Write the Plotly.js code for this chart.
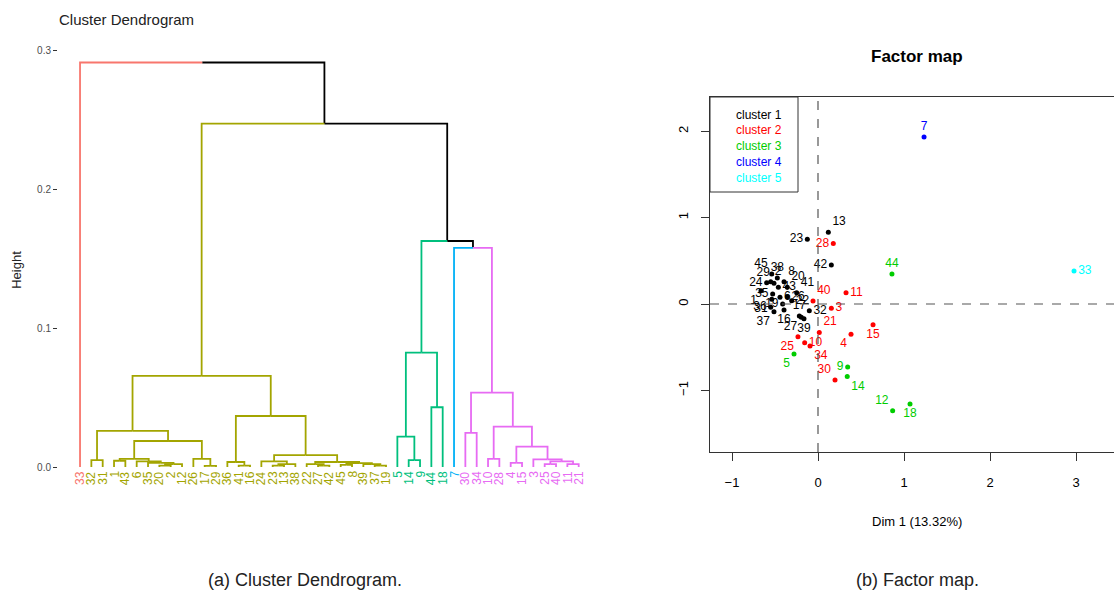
<!DOCTYPE html>
<html><head><meta charset="utf-8">
<script src="https://cdn.plot.ly/plotly-3.0.1.min.js"></script>
<style>html,body{margin:0;padding:0;background:#fff;overflow:hidden}</style>
</head><body><div id="chart" style="width:1114px;height:595px"></div>
<script>
// ---------- Dendrogram data ----------
const leafLabels = ["33",
  "32","31","1","43","6","35","20","2","12","26","17","29","36","41","16","24","23","13","38","22","27","42","45","8","39","37","19",
  "5","14","9","44","18",
  "7",
  "30","34","10","28","4","15","3","25","40","11","21"];
const leafCluster = [1,
  2,2,2,2,2,2,2,2,2,2,2,2,2,2,2,2,2,2,2,2,2,2,2,2,2,2,2,
  3,3,3,3,3,
  4,
  5,5,5,5,5,5,5,5,5,5,5];
// merges: negative = leaf position, positive = earlier merge row
const mergeLeft  = [-2,-8, 2,-7,-6,-4, 6,-12,-11, 7, 1,-15,-14,-18,14,-17,-22,-21,-24,-27,-26,19,18,16,13,11,
                    -30,-29,-32,28,
                    -35,-37,-39,-42,-44,34,-41,33,32,31,
                    -34,30,26,-1];
const mergeRight = [-3,-9,-10, 3, 4,-5, 5,-13, 8, 9,10,-16, 12,-19,-20,15,-23, 17,-25,-28, 20,21,22,23,24,25,
                    -31,27,-33,29,
                    -36,-38,-40,-43,-45,35,36,37,38,39,
                    40,41,42,43];
const mergeHeight = [0.0050,0.0010,0.0020,0.0030,0.0040,0.0045,0.0058,0.0008,0.0058,0.0187,0.0260,0.0010,0.0036,0.0010,0.0020,0.0040,0.0010,0.0020,0.0015,0.0010,0.0020,0.0028,0.0036,0.0086,0.0367,0.0655,
                    0.0050,0.0218,0.0430,0.0823,
                    0.0245,0.0058,0.0030,0.0020,0.0020,0.0040,0.0055,0.0146,0.0290,0.0535,
                    0.1576,0.1626,0.2470,0.2910];
const heightTicks = [0, 0.1, 0.2, 0.3];
const heightTickText = ["0.0", "0.1", "0.2", "0.3"];

// ---------- Factor map data ----------
const c1Labels = ["13","23","42","45","38","8","2","29","24","20","43","41","1","35","6","26","22","31","19","36","16","37","17","27","39","32"];
const c1X = [0.12,-0.124,0.155,-0.538,-0.473,-0.395,-0.55,-0.512,-0.597,-0.357,-0.461,-0.248,-0.663,-0.527,-0.442,-0.357,-0.306,-0.538,-0.411,-0.55,-0.395,-0.512,-0.217,-0.194,-0.163,-0.101];
const c1Y = [0.83,0.749,0.451,0.347,0.301,0.258,0.258,0.239,0.247,0.193,0.193,0.131,0.154,0.116,0.077,0.085,0.039,0.054,0.0,-0.039,-0.069,-0.089,-0.139,-0.154,-0.17,-0.077];
const c2Labels = ["28","40","11","3","21","15","4","25","10","34","30"];
const c2X = [0.178,-0.058,0.326,0.155,0.015,0.64,0.384,-0.233,-0.155,-0.093,0.198];
const c2Y = [0.70,0.035,0.13,-0.05,-0.33,-0.24,-0.35,-0.378,-0.448,-0.486,-0.88];
const c3Labels = ["5","9","14","12","18","44"];
const c3X = [-0.279,0.345,0.34,0.868,1.07,0.86];
const c3Y = [-0.58,-0.73,-0.84,-1.235,-1.157,0.347];
const c4Labels = ["7"];
const c4X = [1.233];
const c4Y = [1.933];
const c5Labels = ["33"];
const c5X = [2.977];
const c5Y = [0.382];
const clusterNames = ["cluster 1","cluster 2","cluster 3","cluster 4","cluster 5"];

// label placement (style)
const c1Pos = ["top right","middle left","middle left","top left","top center","top right","top right","top left","middle left","top right","middle right","top right","bottom left","middle left","middle right","middle right","middle right","bottom left","middle left","middle left","bottom center","bottom left","top center","bottom left","bottom center","middle right"];
const c2Pos = ["middle left","top right","middle right","middle right","top right","bottom center","bottom left","bottom left","middle right","bottom right","top left"];
const c3Pos = ["bottom left","middle left","bottom right","top left","bottom center","top center"];
const c4Pos = ["top center"];
const c5Pos = ["middle right"];

// ---------- Build dendrogram ----------
const dendColors = ["#000000","#F8766D","#A3A500","#00BF7D","#00B0F6","#E76BF3"];
const segX = dendColors.map(() => []), segY = dendColors.map(() => []);
const nodeX = [], nodeC = [];
function info(c) {
  if (c < 0) return {x: -c, h: 0, c: leafCluster[-c - 1]};
  return {x: nodeX[c - 1], h: mergeHeight[c - 1], c: nodeC[c - 1]};
}
for (let i = 0; i < mergeHeight.length; i++) {
  const a = info(mergeLeft[i]), b = info(mergeRight[i]);
  nodeX[i] = (a.x + b.x) / 2;
  nodeC[i] = (a.c === b.c) ? a.c : 0;
  const H = mergeHeight[i];
  [a, b].forEach(ch => {
    segX[ch.c].push(nodeX[i], ch.x, ch.x, null);
    segY[ch.c].push(H, H, ch.h, null);
  });
}
const traces = [];
dendColors.forEach((col, k) => {
  if (segX[k].length) traces.push({type: "scatter", mode: "lines", x: segX[k], y: segY[k],
    xaxis: "x", yaxis: "y", line: {color: col, width: 1.8}, hoverinfo: "skip", showlegend: false});
});

// ---------- Factor map traces ----------
const fmColors = ["#000000","#FF0000","#00CD00","#0000FF","#00FFFF"];
const fmSets = [[c1Labels,c1X,c1Y,c1Pos],[c2Labels,c2X,c2Y,c2Pos],[c3Labels,c3X,c3Y,c3Pos],[c4Labels,c4X,c4Y,c4Pos],[c5Labels,c5X,c5Y,c5Pos]];
fmSets.forEach((s, k) => {
  traces.push({type: "scatter", mode: "markers+text", x: s[1], y: s[2], text: s[0], textposition: s[3],
    xaxis: "x2", yaxis: "y2", cliponaxis: false, name: clusterNames[k],
    marker: {color: fmColors[k], size: 5}, textfont: {color: fmColors[k], size: 12, family: "Liberation Sans, Arial, sans-serif"},
    hoverinfo: "skip", showlegend: false});
});

const W = 1114, Hh = 595;
const px = v => v / W, py = v => (Hh - v) / Hh;
const font = "Liberation Sans, Arial, sans-serif";
const annotations = [];
leafLabels.forEach((lab, i) => {
  annotations.push({x: i + 1, y: 0, xref: "x", yref: "y", text: lab, showarrow: false, textangle: -90,
    xanchor: "center", yanchor: "top", yshift: -2, font: {size: 12, color: dendColors[leafCluster[i]], family: font}});
});
annotations.push({x: px(57), y: py(19), xref: "paper", yref: "paper", text: "Cluster Dendrogram", showarrow: false,
  xanchor: "left", yanchor: "middle", font: {size: 15, color: "#222", family: font}});
annotations.push({x: px(917), y: py(57), xref: "paper", yref: "paper", text: "<b>Factor map</b>", showarrow: false,
  xanchor: "center", yanchor: "middle", font: {size: 17, color: "#000", family: font}});
annotations.push({x: px(917), y: py(521), xref: "paper", yref: "paper", text: "Dim 1 (13.32%)", showarrow: false,
  xanchor: "center", yanchor: "middle", font: {size: 13, color: "#000", family: font}});
annotations.push({x: px(305), y: py(580), xref: "paper", yref: "paper", text: "(a) Cluster Dendrogram.", showarrow: false,
  xanchor: "center", yanchor: "middle", font: {size: 18, color: "#222", family: font}});
annotations.push({x: px(917), y: py(580), xref: "paper", yref: "paper", text: "(b) Factor map.", showarrow: false,
  xanchor: "center", yanchor: "middle", font: {size: 18, color: "#222", family: font}});
const legendY = [115, 130, 146, 162, 178];
clusterNames.forEach((n, k) => {
  annotations.push({x: px(734), y: py(legendY[k]), xref: "paper", yref: "paper", text: n, showarrow: false,
    xanchor: "left", yanchor: "middle", font: {size: 12, color: fmColors[k], family: font}});
});

const shapes = [
  {type: "line", xref: "x2", yref: "paper", x0: 0, x1: 0, y0: py(452), y1: py(97), line: {color: "#555", width: 1.2, dash: "dash"}},
  {type: "line", xref: "paper", yref: "y2", x0: px(710), x1: 1, y0: 0, y1: 0, line: {color: "#555", width: 1.2, dash: "dash"}},
  {type: "rect", xref: "paper", yref: "paper", x0: px(710), x1: px(798), y0: py(192), y1: py(97), line: {color: "#333", width: 1}}
];

const layout = {
  width: W, height: Hh, margin: {l: 0, r: 0, t: 0, b: 0}, paper_bgcolor: "#fff", plot_bgcolor: "rgba(0,0,0,0)",
  showlegend: false,
  xaxis: {domain: [px(58), px(600)], range: [-0.9435, 46.88], visible: false, fixedrange: true},
  yaxis: {domain: [py(500), py(40)], range: [-0.02374, 0.3072], showgrid: false, zeroline: false, showline: false,
    ticks: "outside", ticklen: 4, tickcolor: "#333", tickwidth: 1, tickvals: heightTicks, ticktext: heightTickText,
    tickfont: {size: 10, color: "#4D4D4D", family: font},
    title: {text: "Height", font: {size: 13, color: "#222", family: font}, standoff: 12}},
  xaxis2: {domain: [px(710), 1], range: [-1.2558, 3.4419], anchor: "y2", showgrid: false, zeroline: false,
    showline: true, mirror: true, linecolor: "#333", linewidth: 1, ticks: "outside", ticklen: 8, tickcolor: "#333",
    tickvals: [-1, 0, 1, 2, 3], tickfont: {size: 13, color: "#000", family: font}, ticklabelstandoff: 10},
  yaxis2: {domain: [py(452), py(97)], range: [-1.713, 2.396], anchor: "x2", showgrid: false, zeroline: false,
    showline: true, mirror: true, linecolor: "#333", linewidth: 1, ticks: "outside", ticklen: 8, tickcolor: "#333",
    tickvals: [-1, 0, 1, 2], tickangle: -90, tickfont: {size: 13, color: "#000", family: font}, ticklabelstandoff: 8},
  annotations: annotations, shapes: shapes
};
Plotly.newPlot("chart", traces, layout, {staticPlot: true, displayModeBar: false});
</script></body></html>
